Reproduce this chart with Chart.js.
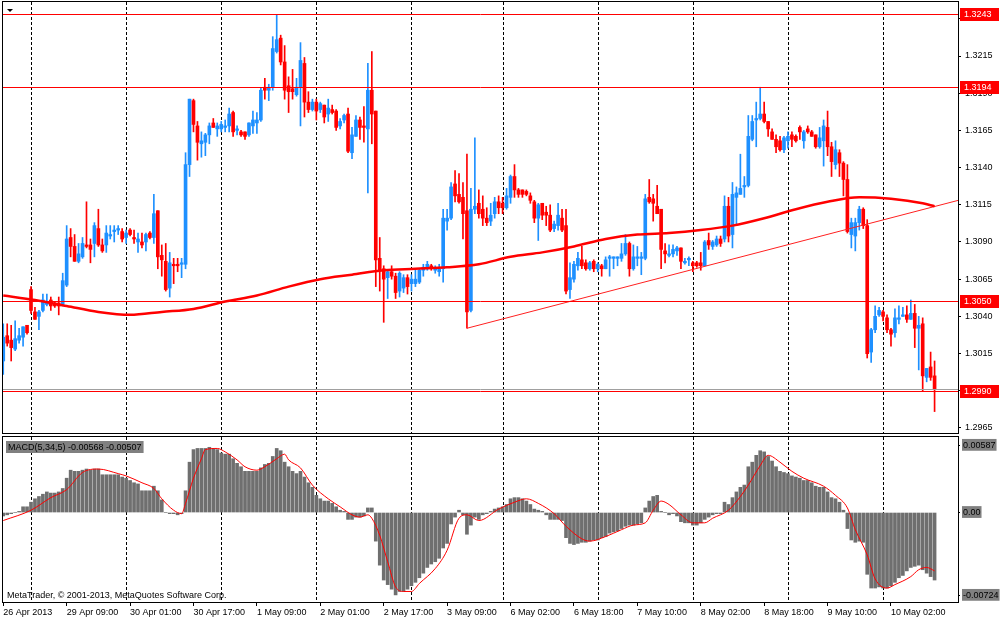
<!DOCTYPE html>
<html>
<head>
<meta charset="utf-8">
<script src="https://cdn.jsdelivr.net/npm/chart.js@4.4.1/dist/chart.umd.min.js"></script>
<style>
  html, body { margin: 0; padding: 0; background: #fff; }
  #wrap { position: relative; width: 1000px; height: 621px; overflow: hidden; }
  #price { position: absolute; left: 0; top: 0; }
  #macd { position: absolute; left: 0; top: 435px; }
</style>
</head>
<body>
<div id="wrap">
  <canvas id="price" width="1000" height="435"></canvas>
  <canvas id="macd" width="1000" height="186"></canvas>
</div>
<script>
// EURUSD H1 candles, 26 Apr - 10 May 2013
const xLabelBars = [0, 16, 32, 48, 64, 80, 96, 112, 128, 144, 160, 176, 192, 208, 224];
const xLabels = ['26 Apr 2013', '29 Apr 09:00', '30 Apr 01:00', '30 Apr 17:00', '1 May 09:00', '2 May 01:00',
  '2 May 17:00', '3 May 09:00', '6 May 02:00', '6 May 18:00', '7 May 10:00', '8 May 02:00', '8 May 18:00',
  '9 May 10:00', '10 May 02:00'];
const dayStarts = [7, 31, 55, 79, 103, 126, 150, 174, 198, 222];
const priceTicks = [1.2965, 1.2990, 1.3015, 1.3040, 1.3065, 1.3090, 1.3115, 1.3140, 1.3165, 1.3190, 1.3215, 1.3240];
const levels = [1.3243, 1.3194, 1.3050, 1.2990];
const bid = 1.2991;

const open = [
  1.3010,1.3027,1.3024,1.3018,1.3024,1.3026,1.3034,1.3058,1.3043,1.3040,
  1.3044,1.3048,1.3051,1.3049,1.3049,1.3048,1.3061,1.3093,1.3087,1.3077,
  1.3080,1.3088,1.3088,1.3089,1.3099,1.3088,1.3088,1.3094,1.3097,1.3098,
  1.3097,1.3093,1.3098,1.3093,1.3090,1.3090,1.3090,1.3096,1.3093,1.3111,
  1.3081,1.3077,1.3059,1.3075,1.3075,1.3075,1.3075,1.3142,1.3185,1.3168,
  1.3156,1.3157,1.3162,1.3170,1.3166,1.3166,1.3167,1.3168,1.3177,1.3165,
  1.3164,1.3164,1.3162,1.3168,1.3170,1.3172,1.3194,1.3192,1.3194,1.3218,
  1.3227,1.3211,1.3195,1.3193,1.3189,1.3194,1.3210,1.3184,1.3179,1.3184,
  1.3179,1.3182,1.3176,1.3179,1.3178,1.3168,1.3172,1.3176,1.3150,1.3161,
  1.3172,1.3168,1.3166,1.3192,1.3178,1.3079,1.3072,1.3066,1.3070,1.3067,
  1.3057,1.3059,1.3066,1.3062,1.3062,1.3063,1.3071,1.3072,1.3074,1.3071,
  1.3070,1.3072,1.3104,1.3106,1.3129,1.3122,1.3120,1.3111,1.3044,1.3112,
  1.3116,1.3112,1.3106,1.3104,1.3109,1.3117,1.3116,1.3113,1.3120,1.3134,
  1.3125,1.3125,1.3124,1.3121,1.3117,1.3106,1.3116,1.3110,1.3108,1.3099,
  1.3101,1.3106,1.3101,1.3058,1.3065,1.3074,1.3078,1.3076,1.3072,1.3077,
  1.3072,1.3074,1.3072,1.3079,1.3079,1.3079,1.3079,1.3082,1.3089,1.3072,
  1.3079,1.3079,1.3079,1.3120,1.3119,1.3114,1.3112,1.3084,1.3081,1.3082,
  1.3084,1.3086,1.3076,1.3078,1.3076,1.3076,1.3076,1.3074,1.3091,1.3087,
  1.3088,1.3092,1.3092,1.3114,1.3095,1.3120,1.3122,1.3127,1.3128,1.3159,
  1.3172,1.3173,1.3176,1.3171,1.3164,1.3159,1.3158,1.3152,1.3158,1.3162,
  1.3161,1.3167,1.3158,1.3166,1.3164,1.3162,1.3154,1.3158,1.3167,1.3154,
  1.3142,1.3150,1.3143,1.3132,1.3095,1.3094,1.3103,1.3112,1.3101,1.3016,
  1.3031,1.3041,1.3043,1.3039,1.3031,1.3029,1.3038,1.3040,1.3041,1.3038,
  1.3042,1.3032,1.3035,1.2999,1.3006,1.3000
];
const high = [
  1.3035,1.3035,1.3034,1.3037,1.3032,1.3033,1.3034,1.3060,1.3046,1.3044,
  1.3055,1.3055,1.3053,1.3050,1.3053,1.3069,1.3101,1.3099,1.3095,1.3089,
  1.3093,1.3117,1.3092,1.3103,1.3112,1.3092,1.3101,1.3101,1.3101,1.3101,
  1.3099,1.3098,1.3099,1.3098,1.3096,1.3096,1.3096,1.3097,1.3122,1.3111,
  1.3088,1.3089,1.3083,1.3079,1.3079,1.3079,1.3150,1.3186,1.3186,1.3171,
  1.3164,1.3163,1.3170,1.3173,1.3170,1.3171,1.3172,1.3180,1.3178,1.3168,
  1.3165,1.3164,1.3170,1.3178,1.3177,1.3194,1.3200,1.3196,1.3228,1.3243,
  1.3229,1.3222,1.3201,1.3206,1.3200,1.3224,1.3214,1.3191,1.3186,1.3186,
  1.3184,1.3182,1.3186,1.3182,1.3179,1.3173,1.3176,1.3180,1.3167,1.3175,
  1.3174,1.3181,1.3210,1.3218,1.3178,1.3093,1.3074,1.3071,1.3074,1.3069,
  1.3070,1.3068,1.3068,1.3068,1.3071,1.3072,1.3075,1.3077,1.3075,1.3074,
  1.3075,1.3112,1.3112,1.3130,1.3138,1.3136,1.3130,1.3149,1.3126,1.3160,
  1.3125,1.3121,1.3113,1.3116,1.3120,1.3121,1.3120,1.3126,1.3135,1.3142,
  1.3126,1.3125,1.3125,1.3123,1.3118,1.3116,1.3116,1.3114,1.3115,1.3104,
  1.3116,1.3112,1.3112,1.3076,1.3077,1.3083,1.3087,1.3078,1.3077,1.3078,
  1.3076,1.3075,1.3080,1.3081,1.3080,1.3080,1.3089,1.3095,1.3090,1.3088,
  1.3087,1.3083,1.3122,1.3132,1.3122,1.3128,1.3112,1.3089,1.3088,1.3088,
  1.3087,1.3086,1.3079,1.3080,1.3077,1.3077,1.3083,1.3091,1.3096,1.3091,
  1.3094,1.3094,1.3121,1.3120,1.3130,1.3127,1.3149,1.3134,1.3175,1.3175,
  1.3184,1.3194,1.3184,1.3171,1.3166,1.3162,1.3161,1.3161,1.3164,1.3164,
  1.3162,1.3168,1.3165,1.3168,1.3165,1.3162,1.3167,1.3172,1.3178,1.3157,
  1.3158,1.3152,1.3144,1.3142,1.3106,1.3106,1.3114,1.3113,1.3105,1.3032,
  1.3047,1.3046,1.3044,1.3041,1.3032,1.3045,1.3047,1.3046,1.3047,1.3051,
  1.3048,1.3040,1.3039,1.3005,1.3016,1.3010
];
const low = [
  1.3001,1.3020,1.3010,1.3017,1.3022,1.3020,1.3028,1.3042,1.3038,1.3031,
  1.3043,1.3047,1.3044,1.3046,1.3041,1.3047,1.3060,1.3080,1.3077,1.3076,
  1.3079,1.3086,1.3076,1.3080,1.3087,1.3083,1.3083,1.3092,1.3090,1.3095,
  1.3090,1.3089,1.3094,1.3089,1.3083,1.3086,1.3084,1.3092,1.3089,1.3072,
  1.3067,1.3057,1.3053,1.3062,1.3070,1.3066,1.3072,1.3134,1.3164,1.3145,
  1.3147,1.3148,1.3156,1.3167,1.3161,1.3164,1.3164,1.3164,1.3161,1.3162,
  1.3161,1.3159,1.3161,1.3163,1.3163,1.3171,1.3186,1.3185,1.3192,1.3217,
  1.3209,1.3186,1.3177,1.3186,1.3188,1.3168,1.3174,1.3177,1.3178,1.3172,
  1.3177,1.3170,1.3171,1.3176,1.3165,1.3166,1.3170,1.3150,1.3146,1.3161,
  1.3159,1.3157,1.3123,1.3156,1.3060,1.3057,1.3036,1.3052,1.3065,1.3052,
  1.3053,1.3056,1.3055,1.3057,1.3060,1.3062,1.3067,1.3071,1.3071,1.3069,
  1.3067,1.3063,1.3098,1.3105,1.3117,1.3116,1.3092,1.3032,1.3043,1.3109,
  1.3106,1.3101,1.3101,1.3101,1.3106,1.3109,1.3109,1.3112,1.3116,1.3120,
  1.3120,1.3120,1.3121,1.3116,1.3103,1.3091,1.3105,1.3101,1.3097,1.3097,
  1.3098,1.3097,1.3055,1.3052,1.3063,1.3071,1.3072,1.3071,1.3071,1.3070,
  1.3070,1.3067,1.3072,1.3067,1.3072,1.3074,1.3077,1.3081,1.3067,1.3071,
  1.3074,1.3068,1.3078,1.3116,1.3104,1.3109,1.3072,1.3076,1.3080,1.3080,
  1.3081,1.3072,1.3075,1.3074,1.3070,1.3073,1.3071,1.3074,1.3085,1.3085,
  1.3087,1.3087,1.3090,1.3090,1.3086,1.3101,1.3122,1.3120,1.3127,1.3158,
  1.3154,1.3172,1.3170,1.3161,1.3159,1.3150,1.3151,1.3150,1.3153,1.3154,
  1.3157,1.3159,1.3153,1.3163,1.3161,1.3153,1.3153,1.3141,1.3148,1.3134,
  1.3139,1.3134,1.3121,1.3096,1.3086,1.3084,1.3098,1.3099,1.3012,1.3009,
  1.3029,1.3040,1.3037,1.3029,1.3020,1.3026,1.3035,1.3040,1.3036,1.3038,
  1.3019,1.3004,1.2990,1.2996,1.2997,1.2976
];
const close = [
  1.3026,1.3022,1.3019,1.3025,1.3027,1.3033,1.3029,1.3044,1.3038,1.3043,
  1.3051,1.3050,1.3047,1.3047,1.3047,1.3064,1.3092,1.3087,1.3077,1.3082,
  1.3089,1.3087,1.3085,1.3101,1.3088,1.3084,1.3096,1.3095,1.3098,1.3099,
  1.3092,1.3096,1.3095,1.3092,1.3092,1.3088,1.3095,1.3093,1.3109,1.3080,
  1.3078,1.3058,1.3076,1.3074,1.3074,1.3076,1.3142,1.3186,1.3169,1.3157,
  1.3158,1.3162,1.3168,1.3167,1.3168,1.3169,1.3168,1.3176,1.3164,1.3166,
  1.3162,1.3161,1.3170,1.3172,1.3172,1.3192,1.3192,1.3194,1.3220,1.3226,
  1.3211,1.3192,1.3191,1.3191,1.3194,1.3212,1.3184,1.3179,1.3184,1.3178,
  1.3183,1.3174,1.3180,1.3177,1.3167,1.3171,1.3175,1.3151,1.3162,1.3172,
  1.3167,1.3167,1.3192,1.3176,1.3078,1.3071,1.3065,1.3070,1.3067,1.3056,
  1.3069,1.3066,1.3060,1.3065,1.3065,1.3071,1.3073,1.3075,1.3073,1.3072,
  1.3072,1.3106,1.3106,1.3127,1.3121,1.3117,1.3109,1.3043,1.3112,1.3114,
  1.3109,1.3106,1.3103,1.3108,1.3117,1.3113,1.3113,1.3121,1.3134,1.3125,
  1.3122,1.3122,1.3122,1.3118,1.3106,1.3115,1.3108,1.3108,1.3098,1.3102,
  1.3108,1.3098,1.3057,1.3066,1.3075,1.3079,1.3074,1.3072,1.3076,1.3072,
  1.3075,1.3072,1.3078,1.3080,1.3080,1.3080,1.3082,1.3089,1.3072,1.3080,
  1.3080,1.3080,1.3119,1.3117,1.3116,1.3109,1.3085,1.3082,1.3082,1.3085,
  1.3086,1.3077,1.3077,1.3079,1.3074,1.3074,1.3074,1.3090,1.3088,1.3090,
  1.3092,1.3089,1.3114,1.3094,1.3122,1.3123,1.3126,1.3128,1.3161,1.3171,
  1.3173,1.3176,1.3171,1.3166,1.3159,1.3154,1.3152,1.3160,1.3161,1.3159,
  1.3158,1.3164,1.3164,1.3164,1.3161,1.3154,1.3160,1.3168,1.3154,1.3144,
  1.3152,1.3143,1.3132,1.3097,1.3103,1.3103,1.3112,1.3101,1.3015,1.3031,
  1.3040,1.3044,1.3040,1.3031,1.3028,1.3039,1.3039,1.3041,1.3038,1.3042,
  1.3032,1.3034,1.3000,1.3005,1.2999,1.2991
];

// moving average, read at these bars
const maBars = [0,8,16,24,32,40,48,56,64,72,80,88,96,104,112,120,128,136,144,152,160,168,176,184,192,200,208,216,224,232,235];
const maVals = [1.3054,1.3051,1.3047,1.3043,1.3041,1.3043,1.3045,1.3050,1.3054,1.3060,1.3065,1.3068,1.3071,1.3072,1.3073,
  1.3075,1.3080,1.3083,1.3087,1.3092,1.3095,1.3096,1.3098,1.3101,1.3106,1.3112,1.3117,1.3120,1.3119,1.3116,1.3114];

// support trend line from the 3 May low
const trendBars = [117, 241];
const trendVals = [1.3032, 1.3118];

const macdHist = [
  -0.0003,-0.0002,-0.0001,0.0000,0.0001,0.0005,0.0005,0.0009,0.0012,0.0014,
  0.0016,0.0018,0.0017,0.0017,0.0018,0.0021,0.0030,0.0037,0.0036,0.0036,
  0.0037,0.0038,0.0037,0.0038,0.0038,0.0033,0.0033,0.0033,0.0033,0.0033,
  0.0031,0.0030,0.0028,0.0026,0.0025,0.0019,0.0019,0.0019,0.0023,0.0019,
  0.0011,0.0000,-0.0001,-0.0001,-0.0002,-0.0001,0.0019,0.0044,0.0055,0.0056,
  0.0056,0.0056,0.0057,0.0056,0.0055,0.0052,0.0051,0.0051,0.0047,0.0043,
  0.0040,0.0036,0.0036,0.0036,0.0036,0.0039,0.0042,0.0043,0.0049,0.0056,
  0.0054,0.0044,0.0040,0.0036,0.0034,0.0036,0.0031,0.0026,0.0022,0.0015,
  0.0012,0.0010,0.0010,0.0008,0.0005,0.0002,0.0001,-0.0006,-0.0006,-0.0004,
  -0.0004,-0.0003,0.0004,0.0004,-0.0025,-0.0046,-0.0059,-0.0063,-0.0067,-0.0072,
  -0.0069,-0.0069,-0.0067,-0.0064,-0.0061,-0.0057,-0.0053,-0.0048,-0.0045,-0.0043,
  -0.0040,-0.0031,-0.0027,-0.0010,-0.0004,0.0002,-0.0002,-0.0019,-0.0011,-0.0004,
  -0.0006,-0.0002,-0.0001,0.0001,0.0003,0.0004,0.0005,0.0007,0.0012,0.0013,
  0.0013,0.0012,0.0010,0.0007,0.0003,0.0002,0.0001,-0.0002,-0.0006,-0.0006,
  -0.0006,-0.0007,-0.0022,-0.0027,-0.0028,-0.0027,-0.0026,-0.0026,-0.0025,-0.0024,
  -0.0024,-0.0022,-0.0021,-0.0018,-0.0017,-0.0016,-0.0014,-0.0012,-0.0011,-0.0011,
  -0.0010,-0.0009,0.0004,0.0010,0.0014,0.0015,0.0001,0.0000,-0.0002,-0.0001,
  -0.0003,-0.0008,-0.0009,-0.0009,-0.0011,-0.0011,-0.0009,-0.0006,-0.0004,-0.0002,
  -0.0001,-0.0001,0.0009,0.0007,0.0013,0.0018,0.0022,0.0024,0.0040,0.0044,
  0.0050,0.0054,0.0053,0.0049,0.0045,0.0040,0.0036,0.0035,0.0034,0.0032,
  0.0031,0.0030,0.0028,0.0028,0.0026,0.0023,0.0022,0.0022,0.0018,0.0013,
  0.0012,0.0009,0.0002,-0.0014,-0.0024,-0.0026,-0.0025,-0.0026,-0.0054,-0.0066,
  -0.0066,-0.0065,-0.0066,-0.0066,-0.0064,-0.0061,-0.0057,-0.0055,-0.0051,-0.0048,
  -0.0047,-0.0046,-0.0050,-0.0053,-0.0056,-0.0059
];
const signalBars = [0,7,12,16,20,24,29,31,35,38,40,43,45,46,48,50,51,54,56,59,61,64,66,69,71,72,75,78,82,85,
  88,90,92,93,95,97,99,101,103,105,109,112,115,117,120,125,129,132,135,139,142,146,148,152,156,159,162,164,166,168,
  171,174,177,179,183,186,188,191,193,196,199,202,207,210,213,215,218,220,223,225,229,231,233,235];
const signalVals = [-0.0007,0.0002,0.0013,0.0020,0.0035,0.0038,0.0034,0.0032,0.0026,0.0021,0.0012,0.0002,-0.0001,0.0008,
  0.0030,0.0047,0.0055,0.0056,0.0053,0.0046,0.0040,0.0037,0.0040,0.0047,0.0051,0.0046,0.0039,0.0024,0.0012,0.0005,
  -0.0002,-0.0004,-0.0002,-0.0005,-0.0020,-0.0043,-0.0065,-0.0069,-0.0069,-0.0062,-0.0049,-0.0033,-0.0005,-0.0002,
  -0.0007,0.0003,0.0009,0.0012,0.0008,-0.0001,-0.0012,-0.0023,-0.0025,-0.0021,-0.0015,-0.0011,-0.0009,0.0002,0.0010,
  0.0007,-0.0002,-0.0009,-0.0009,-0.0005,0.0002,0.0014,0.0024,0.0041,0.0050,0.0044,0.0036,0.0030,0.0023,0.0015,
  0.0004,-0.0015,-0.0037,-0.0058,-0.0066,-0.0063,-0.0056,-0.0050,-0.0048,-0.0051];
const macdTicks = [-0.00724, 0, 0.00587];

const BULL = '#1e90ff';
const BEAR = '#ff0000';
const FONT = 'Tahoma, "Liberation Sans", Arial, sans-serif';
const X_MIN = -0.066, X_MAX = 240.91;

Chart.defaults.font.family = FONT;
Chart.defaults.font.size = 9;
Chart.defaults.color = '#000';

const candleColor = c => close[c.dataIndex] >= open[c.dataIndex] ? BULL : BEAR;

// dashed day separators, shared by both panes
const daySeparators = {
  id: 'daySeparators',
  beforeDatasetsDraw(chart) {
    const { ctx, chartArea: a, scales: { x } } = chart;
    ctx.save();
    ctx.strokeStyle = '#000';
    ctx.lineWidth = 1;
    ctx.setLineDash([3, 2]);
    dayStarts.forEach(b => {
      const px = Math.round(x.getPixelForValue(b)) + 0.5;
      ctx.beginPath();
      ctx.moveTo(px, a.top);
      ctx.lineTo(px, a.bottom);
      ctx.stroke();
    });
    ctx.restore();
  },
  afterDraw(chart) {
    const { ctx, chartArea: a } = chart;
    ctx.save();
    ctx.strokeStyle = '#000';
    ctx.lineWidth = 1;
    ctx.strokeRect(a.left - 0.5, a.top - 0.5, a.right - a.left + 1, a.bottom - a.top + 1);
    ctx.restore();
  }
};

const priceMarks = {
  id: 'priceMarks',
  afterDatasetsDraw(chart) {
    const { ctx, chartArea: a, scales: { y } } = chart;
    ctx.save();
    ctx.lineWidth = 1;
    const by = Math.round(y.getPixelForValue(bid)) + 0.5;
    ctx.strokeStyle = '#a0a0a0';
    ctx.beginPath(); ctx.moveTo(a.left, by); ctx.lineTo(a.right, by); ctx.stroke();
    ctx.strokeStyle = '#ff0000';
    levels.forEach(v => {
      const py = Math.round(y.getPixelForValue(v)) + 0.5;
      ctx.beginPath(); ctx.moveTo(a.left, py); ctx.lineTo(a.right, py); ctx.stroke();
    });
    ctx.restore();
  },
  afterDraw(chart) {
    const { ctx, chartArea: a, scales: { y } } = chart;
    ctx.save();
    ctx.font = '9px ' + FONT;
    ctx.textBaseline = 'middle';
    levels.forEach(v => {
      const py = Math.round(y.getPixelForValue(v));
      ctx.fillStyle = '#ff0000';
      ctx.fillRect(a.right + 2, py - 6, 39, 13);
      ctx.fillStyle = '#fff';
      ctx.fillText(v.toFixed(4), a.right + 6, py + 0.5);
    });
    // chart shift marker
    ctx.fillStyle = '#000';
    ctx.beginPath();
    ctx.moveTo(7, 9); ctx.lineTo(13, 9); ctx.lineTo(10, 12); ctx.closePath();
    ctx.fill();
    ctx.restore();
  }
};

const macdTexts = {
  id: 'macdTexts',
  afterDraw(chart) {
    const { ctx, chartArea: a } = chart;
    ctx.save();
    ctx.font = '9px ' + FONT;
    ctx.textBaseline = 'middle';
    const title = 'MACD(5,34,5) -0.00568 -0.00507';
    const w = ctx.measureText(title).width;
    ctx.fillStyle = '#808080';
    ctx.fillRect(a.left + 3, a.top + 4, w + 4, 12);
    ctx.fillStyle = '#000';
    ctx.fillText(title, a.left + 5, a.top + 10.5);
    ctx.fillText('MetaTrader, \u00a9 2001-2013, MetaQuotes Software Corp.', a.left + 4, a.bottom - 6);
    ctx.restore();
  }
};

new Chart(document.getElementById('price'), {
  type: 'bar',
  data: {
    datasets: [
      {
        type: 'line', data: maBars.map((b, k) => ({ x: b, y: maVals[k] })),
        borderColor: '#ff0000', borderWidth: 2.5, pointRadius: 0, cubicInterpolationMode: 'monotone', order: 0
      },
      {
        type: 'line', data: trendBars.map((b, k) => ({ x: b, y: trendVals[k] })),
        borderColor: '#ff2020', borderWidth: 1, pointRadius: 0, order: 0
      },
      {
        type: 'bar', data: close.map((c, i) => ({ x: i, y: [open[i], c] })),
        backgroundColor: candleColor, barThickness: 3, minBarLength: 1, grouped: false, order: 1
      },
      {
        type: 'bar', data: close.map((c, i) => ({ x: i, y: [low[i], high[i]] })),
        backgroundColor: candleColor, barThickness: 1, grouped: false, order: 2
      }
    ]
  },
  options: {
    responsive: false,
    animation: false,
    layout: { padding: { left: 3, top: 2, right: 0, bottom: 2 } },
    plugins: { legend: { display: false }, tooltip: { enabled: false } },
    scales: {
      x: { type: 'linear', min: X_MIN, max: X_MAX, offset: false, display: false },
      y: {
        type: 'linear', position: 'right', min: 1.29616, max: 1.32513, beginAtZero: false,
        afterBuildTicks: s => { s.ticks = priceTicks.map(v => ({ value: v })); },
        afterFit: s => { s.width = 42; s.paddingTop = 0; s.paddingBottom = 0; },
        ticks: { padding: 4, callback: v => v.toFixed(4), font: { size: 9 } },
        grid: { drawOnChartArea: false, drawTicks: true, tickLength: 3, color: '#000' },
        border: { display: true, color: '#000' }
      }
    }
  },
  plugins: [daySeparators, priceMarks]
});

new Chart(document.getElementById('macd'), {
  type: 'bar',
  data: {
    datasets: [
      {
        type: 'line', data: signalBars.map((b, k) => ({ x: b, y: signalVals[k] })),
        borderColor: '#ff0000', borderWidth: 1, pointRadius: 0, cubicInterpolationMode: 'monotone', order: 0
      },
      {
        type: 'bar', data: macdHist.map((v, i) => ({ x: i, y: v })),
        backgroundColor: '#6f6f6f', barThickness: 3, grouped: false, order: 1
      }
    ]
  },
  options: {
    responsive: false,
    animation: false,
    layout: { padding: { left: 3, top: 2, right: 0, bottom: 0 } },
    plugins: { legend: { display: false }, tooltip: { enabled: false } },
    scales: {
      x: {
        type: 'linear', min: X_MIN, max: X_MAX, offset: false,
        afterBuildTicks: s => { s.ticks = xLabelBars.map(v => ({ value: v })); },
        afterFit: s => { s.height = 19; s.paddingLeft = 0; s.paddingRight = 0; },
        ticks: { align: 'start', autoSkip: false, maxRotation: 0, minRotation: 0, padding: 1,
                 callback: (v, i) => xLabels[i], font: { size: 9 } },
        grid: { drawOnChartArea: false, drawTicks: true, tickLength: 4, color: '#000', offset: false },
        border: { display: true, color: '#000' }
      },
      y: {
        type: 'linear', position: 'right', min: -0.00782, max: 0.0066, beginAtZero: false,
        afterBuildTicks: s => { s.ticks = macdTicks.map(v => ({ value: v })); },
        afterFit: s => { s.width = 42; s.paddingTop = 0; s.paddingBottom = 0; },
        ticks: {
          padding: 3, font: { size: 9 },
          callback: v => v === 0 ? '0.00' : v.toFixed(5),
          showLabelBackdrop: true, backdropColor: '#808080', backdropPadding: { left: 1, right: 1, top: 1, bottom: 0 }
        },
        grid: { drawOnChartArea: false, drawTicks: true, tickLength: 2, color: '#000' },
        border: { display: true, color: '#000' }
      }
    }
  },
  plugins: [daySeparators, macdTexts]
});
</script>
</body>
</html>
